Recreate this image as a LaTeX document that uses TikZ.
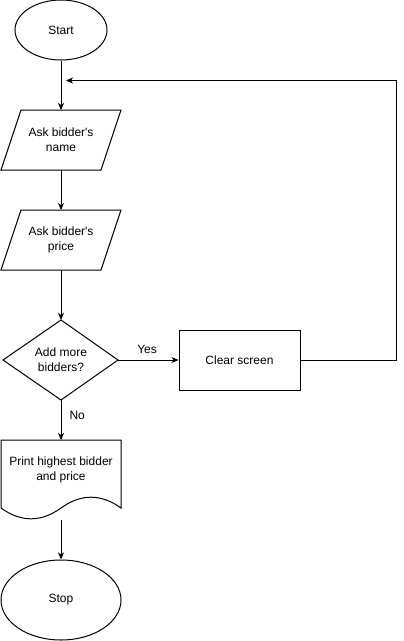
\documentclass[tikz,border=0pt]{standalone}
\usepackage{fontspec}
\setmainfont{Liberation Sans}[Ligatures=TeXOff]
\usetikzlibrary{arrows.meta,shapes.geometric}
\begin{document}
\begin{tikzpicture}[x=1pt,y=-1pt,
  every node/.style={font=\fontsize{12}{14}\selectfont, align=center, inner sep=0pt},
  shp/.style={draw, line width=1pt, fill=white},
  conn/.style={line width=1pt, -{Stealth[length=7pt,width=6pt,inset=2pt]}},
  lbl/.style={font=\fontsize{12}{14}\selectfont}]
\useasboundingbox (0,0) rectangle (404,641);
% Start
\node[shp, ellipse, minimum width=92pt, minimum height=60pt] (start) at (61,30) {Start};
% parallelogram 1
\draw[shp] (21,110) -- (121,110) -- (101,170) -- (1,170) -- cycle;
\node (p1) at (61,140) {Ask bidder's\\[1pt]name};
\coordinate (p1t) at (61,110);
\coordinate (p1b) at (61,170);
% parallelogram 2
\draw[shp] (21,210) -- (121,210) -- (101,270) -- (1,270) -- cycle;
\node (p2) at (61,240) {Ask bidder's\\[1pt]price};
\coordinate (p2t) at (61,210);
\coordinate (p2b) at (61,270);
% diamond
\draw[shp] (61,320) -- (118,360) -- (61,400) -- (3,360) -- cycle;
\node (dm) at (61,360) {Add more\\[1pt]bidders?};
\coordinate (dt) at (61,320);
\coordinate (dr) at (118,360);
\coordinate (db) at (61,400);
% clear screen
\node[shp, rectangle, minimum width=121pt, minimum height=60pt] (clr) at (239.5,360) {Clear screen};
% document
\draw[shp] (1,440) -- (121,440) -- (121,508) .. controls (101,493.6) and (81,493.6) .. (61,508)
  .. controls (41,522.4) and (21,522.4) .. (1,508) -- cycle;
\node (doc) at (61,470) {Print highest bidder\\[1pt]and price};
\coordinate (doct) at (61,440);
\coordinate (docb) at (61,520);
% stop
\node[shp, ellipse, minimum width=120pt, minimum height=80pt] (stop) at (61,600) {Stop};
% connectors
\draw[conn] (start.south) -- (p1t);
\draw[conn] (p1b) -- (p2t);
\draw[conn] (p2b) -- (dt);
\draw[conn] (dr) -- node[lbl, pos=0.48, above=6pt] (yes) {Yes} (clr.west);
\draw[conn] (db) -- node[lbl, pos=0.38, right=8pt] (no) {No} (doct);
\draw[conn] (docb) -- (stop.north);
\coordinate (c1) at (396,360);
\coordinate (c2) at (396,80.5);
\coordinate (c3) at (66,80.5);
\draw[conn] (clr.east) -- (c1) -- (c2) -- (c3);
\end{tikzpicture}
\end{document}
